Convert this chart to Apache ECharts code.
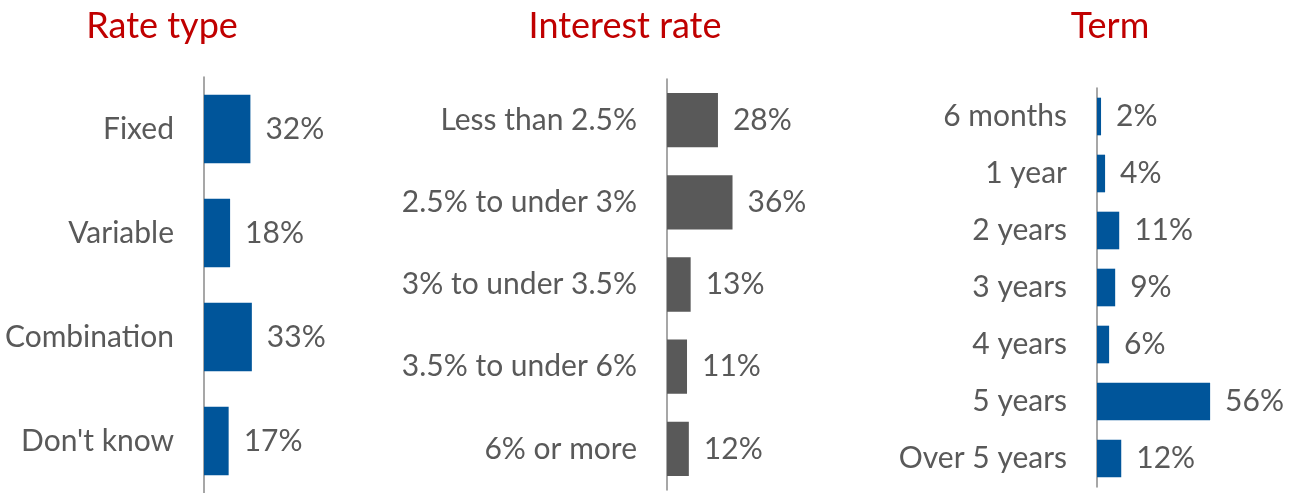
<!DOCTYPE html>
<html><head><meta charset="utf-8">
<script src="https://cdn.jsdelivr.net/npm/echarts@6/dist/echarts.min.js"></script>
<style>html,body{margin:0;padding:0;background:#fff}#c{width:1299px;height:493px}</style>
</head><body><div id="c"></div>
<script>
const rateCategories = ["Fixed", "Variable", "Combination", "Don't know"];
const rateValues = [32, 18, 33, 17];
const interestCategories = ["Less than 2.5%", "2.5% to under 3%", "3% to under 3.5%", "3.5% to under 6%", "6% or more"];
const interestValues = [28, 36, 13, 11, 12];
const termCategories = ["6 months", "1 year", "2 years", "3 years", "4 years", "5 years", "Over 5 years"];
const termValues = [2, 4, 11, 9, 6, 56, 12];
const titles = ["Rate type", "Interest rate", "Term"];

const FONT = 'Lato';
const TXT = '#595959';
const grids = [
  {left: 204, top: 77, height: 419, width: 145},
  {left: 667, top: 79, height: 411, width: 182},
  {left: 1097, top: 88, height: 399, width: 204}
];
const titleCenters = [157, 620, 1105];
const cats = [rateCategories, interestCategories, termCategories];
const vals = [rateValues, interestValues, termValues];
const colors = ['#00559A', '#595959', '#00559A'];

const chart = echarts.init(document.getElementById('c'));
chart.setOption({
  animation: false,
  title: titles.map((t, i) => ({
    text: t, left: titleCenters[i], top: 3, textAlign: 'center',
    textStyle: {color: '#C00000', fontFamily: FONT, fontSize: 36, fontWeight: 'normal'}
  })),
  grid: grids.map(g => Object.assign({containLabel: false}, g)),
  xAxis: grids.map((g, i) => ({
    type: 'value', gridIndex: i, min: 0, max: 100, show: false
  })),
  yAxis: cats.map((c, i) => ({
    type: 'category', gridIndex: i, data: c, inverse: true,
    axisLine: {show: true, lineStyle: {color: '#8a8a8a', width: 1.5}},
    axisTick: {show: false},
    axisLabel: {color: TXT, fontFamily: FONT, fontSize: 30, margin: 30, padding: [4, 0, 0, 0]}
  })),
  series: vals.map((v, i) => ({
    type: 'bar', xAxisIndex: i, yAxisIndex: i, data: v, barWidth: '66%',
    itemStyle: {color: colors[i]},
    label: {show: true, position: 'right', distance: 15, formatter: '{c}%',
      color: TXT, fontFamily: FONT, fontSize: 30, padding: [4, 0, 0, 0]}
  }))
});
</script></body></html>
